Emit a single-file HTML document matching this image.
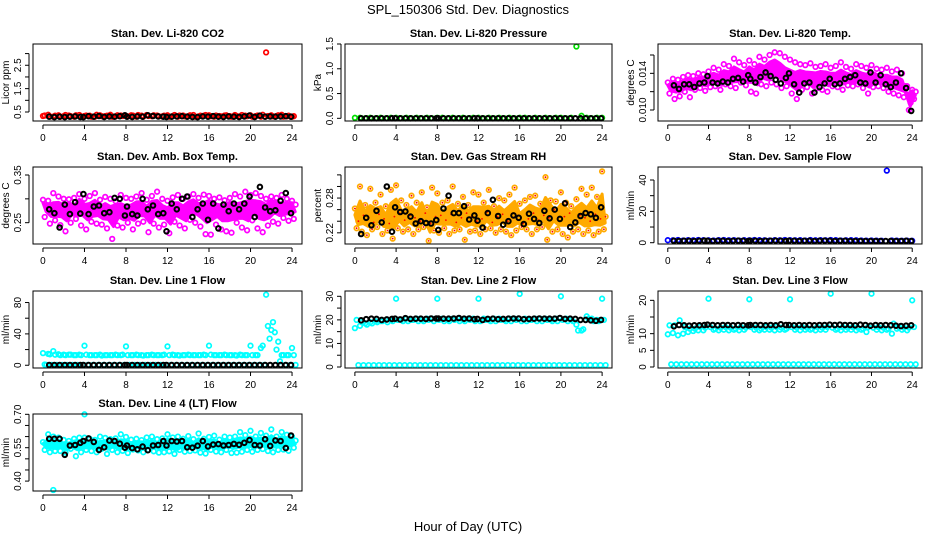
<!DOCTYPE html>
<html><head><meta charset="utf-8">
<style>
html,body{margin:0;padding:0;background:#fff;}
svg{display:block;font-family:"Liberation Sans",Arial,sans-serif;}
</style></head>
<body>
<svg id="chart" width="936" height="540" viewBox="0 0 936 540">
<text x="468" y="14" text-anchor="middle" font-size="13">SPL_150306  Std. Dev. Diagnostics</text>
<text x="468" y="531" text-anchor="middle" font-size="13">Hour of Day (UTC)</text>
</svg>
<script>
const hours = [0,0.5,1,1.5,2,2.5,3,3.5,4,4.5,5,5.5,6,6.5,7,7.5,8,8.5,9,9.5,10,10.5,11,11.5,12,12.5,13,13.5,14,14.5,15,15.5,16,16.5,17,17.5,18,18.5,19,19.5,20,20.5,21,21.5,22,22.5,23,23.5,24];
const blackHours = [0.6,1.1,1.6,2.1,2.6,3.1,3.6,3.9,4.4,4.9,5.4,5.9,6.4,6.9,7.4,7.9,8.1,8.6,9.1,9.6,10.1,10.6,11.1,11.6,11.9,12.4,12.9,13.4,13.9,14.4,14.9,15.4,15.9,16.4,16.9,17.4,17.9,18.4,18.9,19.4,19.9,20.4,20.9,21.4,21.9,22.4,22.9,23.4,23.9];
const xTicks = [0,4,8,12,16,20,24];

const co2A = [0.33,0.38,0.30,0.36,0.32,0.35,0.30,0.37,0.33,0.34,0.30,0.36,0.32,0.38,0.31,0.35,0.33,0.36,0.30,0.34,0.37,0.32,0.35,0.31,0.36,0.33,0.30,0.35,0.32,0.37,0.31,0.34,0.36,0.30,0.33,0.35,0.32,0.37,0.31,0.34,0.36,0.32,0.30,3.05,0.36,0.33,0.38,0.31,0.30];
const co2B = [0.35,0.31,0.34,0.30,0.37,0.32,0.36,0.31,0.35,0.30,0.38,0.32,0.34,0.30,0.36,0.33,0.31,0.35,0.37,0.30,0.33,0.36,0.31,0.34,0.30,0.37,0.35,0.31,0.36,0.30,0.34,0.37,0.32,0.35,0.31,0.36,0.30,0.33,0.37,0.32,0.30,0.35,0.38,0.33,0.31,0.36,0.30,0.34,0.32];
const co2K = [0.30,0.28,0.30,0.28,0.30,0.31,0.29,0.28,0.32,0.30,0.33,0.29,0.31,0.30,0.32,0.36,0.30,0.29,0.31,0.30,0.36,0.33,0.31,0.30,0.29,0.30,0.31,0.32,0.30,0.29,0.28,0.31,0.30,0.32,0.30,0.29,0.31,0.30,0.29,0.31,0.35,0.29,0.34,0.30,0.31,0.30,0.31,0.32,0.30];

const presA = [0.01,0.01,0.00,0.01,0.00,0.01,0.00,0.01,0.01,0.00,0.01,0.00,0.01,0.00,0.01,0.00,0.01,0.01,0.00,0.01,0.00,0.01,0.00,0.01,0.01,0.00,0.01,0.00,0.01,0.00,0.01,0.00,0.01,0.01,0.00,0.01,0.00,0.01,0.00,0.01,0.01,0.00,0.01,1.45,0.05,0.01,0.00,0.01,0.01];
const presK = [0.00,0.00,0.00,0.00,0.00,0.00,0.00,0.00,0.00,0.00,0.00,0.00,0.00,0.00,0.00,0.00,0.00,0.00,0.00,0.00,0.00,0.00,0.00,0.00,0.00,0.00,0.00,0.00,0.00,0.00,0.00,0.00,0.00,0.00,0.00,0.00,0.00,0.00,0.00,0.00,0.00,0.00,0.00,0.00,0.00,0.00,0.00,0.00,0.00];

const tempA = [0.0130,0.0134,0.0133,0.0136,0.0138,0.0137,0.0140,0.0139,0.0142,0.0146,0.0144,0.0150,0.0148,0.0156,0.0152,0.0149,0.0154,0.0150,0.0158,0.0155,0.0160,0.0163,0.0162,0.0158,0.0155,0.0152,0.0150,0.0149,0.0151,0.0147,0.0148,0.0150,0.0146,0.0148,0.0152,0.0147,0.0145,0.0150,0.0148,0.0146,0.0149,0.0145,0.0144,0.0146,0.0142,0.0144,0.0140,0.0126,0.0122];
const tempB = [0.0118,0.0112,0.0115,0.0120,0.0114,0.0122,0.0124,0.0121,0.0125,0.0126,0.0122,0.0128,0.0126,0.0124,0.0130,0.0127,0.0120,0.0118,0.0128,0.0126,0.0130,0.0128,0.0124,0.0126,0.0118,0.0112,0.0122,0.0125,0.0118,0.0124,0.0122,0.0120,0.0126,0.0125,0.0122,0.0127,0.0126,0.0128,0.0124,0.0118,0.0125,0.0126,0.0124,0.0120,0.0118,0.0116,0.0114,0.0100,0.0112];
const tempC = [0.0124,0.0127,0.0126,0.0128,0.0130,0.0129,0.0131,0.0132,0.0133,0.0134,0.0132,0.0136,0.0135,0.0138,0.0136,0.0134,0.0140,0.0137,0.0142,0.0140,0.0144,0.0146,0.0140,0.0134,0.0132,0.0130,0.0136,0.0134,0.0131,0.0134,0.0136,0.0133,0.0134,0.0132,0.0135,0.0134,0.0132,0.0136,0.0133,0.0132,0.0134,0.0133,0.0131,0.0130,0.0130,0.0128,0.0126,0.0108,0.0120];
const tempK = [0.0127,0.0123,0.0128,0.0128,0.0125,0.0129,0.0130,0.0137,0.0130,0.0129,0.0131,0.0130,0.0134,0.0135,0.0131,0.0138,0.0134,0.0130,0.0136,0.0141,0.0137,0.0133,0.0129,0.0135,0.0140,0.0128,0.0119,0.0129,0.0130,0.0119,0.0125,0.0129,0.0134,0.0128,0.0129,0.0134,0.0136,0.0138,0.0130,0.0129,0.0141,0.0130,0.0138,0.0128,0.0125,0.0130,0.0140,0.0124,0.0099];

const ambA = [0.298,0.296,0.312,0.305,0.300,0.299,0.302,0.310,0.300,0.306,0.312,0.298,0.304,0.300,0.295,0.308,0.302,0.300,0.305,0.312,0.298,0.306,0.315,0.300,0.296,0.303,0.308,0.300,0.305,0.310,0.302,0.309,0.306,0.300,0.303,0.297,0.302,0.310,0.305,0.315,0.308,0.312,0.306,0.300,0.305,0.302,0.308,0.300,0.296];
const ambB = [0.262,0.248,0.255,0.245,0.232,0.250,0.258,0.244,0.236,0.252,0.248,0.246,0.238,0.216,0.244,0.240,0.250,0.236,0.248,0.252,0.230,0.248,0.240,0.246,0.228,0.252,0.244,0.238,0.256,0.250,0.242,0.226,0.225,0.246,0.236,0.232,0.229,0.250,0.240,0.234,0.255,0.238,0.230,0.244,0.252,0.248,0.260,0.254,0.258];
const ambC = [0.285,0.278,0.272,0.280,0.276,0.284,0.270,0.288,0.276,0.275,0.282,0.270,0.276,0.268,0.280,0.272,0.268,0.274,0.282,0.276,0.270,0.284,0.278,0.272,0.266,0.280,0.276,0.270,0.282,0.286,0.278,0.274,0.288,0.280,0.272,0.276,0.284,0.268,0.278,0.274,0.286,0.280,0.282,0.276,0.290,0.282,0.276,0.284,0.288];
const ambK = [0.278,0.270,0.240,0.288,0.268,0.293,0.269,0.310,0.268,0.284,0.286,0.270,0.272,0.302,0.300,0.265,0.284,0.268,0.265,0.300,0.278,0.286,0.268,0.270,0.232,0.290,0.278,0.300,0.305,0.262,0.278,0.290,0.256,0.290,0.238,0.288,0.274,0.290,0.278,0.290,0.305,0.262,0.325,0.282,0.274,0.276,0.296,0.312,0.270];

const rhA = [0.262,0.300,0.268,0.296,0.272,0.286,0.266,0.294,0.302,0.276,0.268,0.284,0.272,0.290,0.264,0.298,0.288,0.272,0.276,0.300,0.270,0.282,0.268,0.290,0.286,0.272,0.294,0.266,0.280,0.276,0.286,0.298,0.270,0.276,0.282,0.284,0.270,0.316,0.276,0.274,0.290,0.272,0.266,0.278,0.296,0.286,0.298,0.282,0.326];
const rhB = [0.228,0.222,0.216,0.226,0.230,0.218,0.224,0.210,0.228,0.222,0.226,0.218,0.226,0.230,0.206,0.224,0.220,0.228,0.218,0.224,0.226,0.208,0.222,0.224,0.218,0.226,0.228,0.220,0.226,0.222,0.216,0.224,0.230,0.226,0.218,0.226,0.230,0.208,0.222,0.226,0.218,0.212,0.222,0.226,0.218,0.224,0.216,0.222,0.226];
const rhC = [0.240,0.250,0.246,0.238,0.252,0.244,0.236,0.248,0.254,0.242,0.250,0.246,0.240,0.254,0.236,0.248,0.250,0.242,0.252,0.238,0.246,0.254,0.248,0.240,0.244,0.256,0.238,0.248,0.252,0.240,0.246,0.250,0.236,0.244,0.254,0.242,0.250,0.246,0.260,0.240,0.248,0.254,0.242,0.250,0.246,0.240,0.252,0.244,0.248];
const rhK = [0.218,0.246,0.233,0.258,0.238,0.300,0.222,0.264,0.256,0.257,0.248,0.236,0.240,0.237,0.236,0.242,0.225,0.262,0.284,0.254,0.254,0.266,0.243,0.250,0.241,0.229,0.254,0.277,0.249,0.234,0.240,0.250,0.246,0.235,0.253,0.244,0.237,0.258,0.245,0.260,0.244,0.271,0.230,0.238,0.249,0.254,0.252,0.246,0.264];

const sfA = [1.6,1.5,1.7,1.4,1.6,1.5,1.7,1.6,1.5,1.4,1.6,1.7,1.5,1.6,1.4,1.6,1.5,1.7,1.6,1.5,1.4,1.6,1.5,1.7,1.6,1.5,1.6,1.4,1.7,1.5,1.6,1.5,1.7,1.6,1.4,1.5,1.6,1.5,1.4,1.3,1.4,1.3,1.2,46.0,1.4,1.3,1.2,1.3,1.2];
const sfK = [1.2,1.1,1.2,1.2,1.1,1.2,1.3,1.2,1.1,1.2,1.2,1.1,1.2,1.3,1.2,1.1,1.2,1.2,1.1,1.2,1.2,1.3,1.2,1.1,1.2,1.2,1.1,1.2,1.2,1.1,1.2,1.3,1.2,1.1,1.2,1.2,1.1,1.0,1.1,1.0,1.0,1.1,1.0,1.0,1.1,1.0,1.1,1.2,1.1];

const l1A = [15.5,14.5,18.0,14.0,13.5,13.5,13.0,13.5,25.0,13.0,13.0,13.5,13.0,13.0,13.5,13.0,24.0,13.0,13.5,13.0,13.0,13.5,13.0,13.0,24.0,13.5,13.0,13.0,13.5,13.0,13.0,13.5,25.0,13.0,13.0,13.5,13.0,13.0,13.5,13.0,25.0,13.0,22.0,90.0,45.0,20.0,13.0,13.0,22.0];
const l1B = [1.0,14.0,13.5,13.0,13.0,13.5,13.0,13.0,13.5,13.0,13.0,12.5,13.0,13.0,13.0,13.5,13.0,13.0,13.0,12.5,13.0,13.0,13.0,13.5,13.0,13.0,12.5,13.0,13.0,13.0,13.0,13.0,13.5,13.0,13.0,13.0,13.0,12.5,13.0,13.0,13.0,13.0,25.0,50.0,55.0,30.0,13.0,13.0,13.0];
const l1C = [0.5,0.5,0.5,0.5,0.5,0.5,0.5,0.5,0.5,0.5,0.5,0.5,0.5,0.5,0.5,0.5,0.5,0.5,0.5,0.5,0.5,0.5,0.5,0.5,0.5,0.5,0.5,0.5,0.5,0.5,0.5,0.5,0.5,0.5,0.5,0.5,0.5,0.5,0.5,0.5,0.5,0.5,0.5,34.0,42.0,5.0,0.5,0.5,0.5];
const l1K = [0.3,0.3,0.3,0.3,0.3,0.3,0.3,0.3,0.3,0.3,0.3,0.3,0.3,0.3,0.3,0.3,0.3,0.3,0.3,0.3,0.3,0.3,0.3,0.3,0.3,0.3,0.3,0.3,0.3,0.3,0.3,0.3,0.3,0.3,0.3,0.3,0.3,0.3,0.3,0.3,0.3,0.3,0.3,0.3,0.3,0.3,0.3,0.3,0.3];

const l2A = [16.5,17.5,18.5,19.0,19.5,19.5,20.0,20.0,29.0,20.0,20.5,20.0,20.5,20.0,20.5,20.5,29.0,20.5,20.0,20.5,20.5,20.0,20.5,20.5,29.0,20.5,20.0,20.5,20.5,20.0,20.5,20.5,31.0,20.5,20.0,20.5,20.5,20.5,20.0,20.5,30.0,20.5,20.0,18.0,15.5,21.5,20.5,20.0,29.0];
const l2B = [20.0,19.0,18.0,18.5,19.0,19.5,19.0,19.5,20.0,19.5,19.5,20.0,19.5,19.5,20.0,19.5,20.0,19.5,19.5,20.0,19.5,19.5,20.0,19.5,19.5,20.0,19.5,19.5,20.0,19.5,19.5,20.0,19.5,19.5,20.0,19.5,19.5,20.0,19.5,19.5,20.0,19.5,19.5,15.5,16.0,20.5,19.5,19.5,20.0];
const l2C = [0.8,0.8,0.8,0.8,0.8,0.8,0.8,0.8,0.8,0.8,0.8,0.8,0.8,0.8,0.8,0.8,0.8,0.8,0.8,0.8,0.8,0.8,0.8,0.8,0.8,0.8,0.8,0.8,0.8,0.8,0.8,0.8,0.8,0.8,0.8,0.8,0.8,0.8,0.8,0.8,0.8,0.8,0.8,0.8,0.8,0.8,0.8,0.8,0.8];
const l2K = [19.8,20.3,20.5,20.4,20.0,20.2,20.4,20.5,20.2,20.7,20.4,20.5,20.5,20.4,20.6,20.6,20.6,20.5,20.5,20.6,20.8,20.5,20.6,20.3,20.4,20.0,20.4,20.5,20.3,20.4,20.5,20.6,20.6,20.3,20.4,20.5,20.6,20.5,20.5,20.5,20.8,20.4,20.5,20.4,20.0,20.0,19.8,19.6,20.0];

const l3A = [9.8,10.2,9.5,10.0,10.5,10.8,11.0,11.0,20.5,11.2,11.0,11.2,11.0,11.2,11.0,11.2,20.3,11.2,11.0,11.2,11.2,11.0,11.2,11.2,20.3,11.2,11.0,11.2,11.2,11.0,11.2,11.2,22.0,11.2,11.0,11.2,11.2,11.0,11.2,10.5,22.0,11.2,11.0,11.2,10.0,11.5,11.2,11.0,20.0];
const l3B = [12.5,12.5,14.0,12.0,11.5,11.5,12.0,11.8,12.0,11.5,11.8,12.0,11.8,11.5,12.0,11.8,12.0,11.8,11.5,12.0,11.8,12.0,11.8,11.5,12.0,11.8,12.0,11.8,11.5,12.0,11.8,12.0,11.8,11.5,12.0,11.8,12.0,11.8,11.5,12.0,11.8,12.0,11.8,11.5,13.0,12.0,11.8,11.8,12.0];
const l3C = [0.8,0.8,0.8,0.8,0.8,0.8,0.8,0.8,0.8,0.8,0.8,0.8,0.8,0.8,0.8,0.8,0.8,0.8,0.8,0.8,0.8,0.8,0.8,0.8,0.8,0.8,0.8,0.8,0.8,0.8,0.8,0.8,0.8,0.8,0.8,0.8,0.8,0.8,0.8,0.8,0.8,0.8,0.8,0.8,0.8,0.8,0.8,0.8,0.8];
const l3K = [12.2,12.6,12.5,12.4,12.5,12.5,12.6,12.7,12.6,12.5,12.6,12.6,12.5,12.6,12.5,12.5,12.6,12.6,12.6,12.5,12.6,12.5,12.8,12.6,12.6,12.5,12.6,12.5,12.6,12.5,12.6,12.6,12.7,12.6,12.7,12.6,12.6,12.5,12.7,12.6,12.4,12.6,12.5,12.6,12.5,12.4,12.3,12.4,12.5];

const l4A = [0.575,0.610,0.600,0.595,0.585,0.580,0.590,0.595,0.595,0.590,0.585,0.600,0.594,0.588,0.592,0.610,0.598,0.586,0.590,0.584,0.596,0.600,0.588,0.592,0.610,0.596,0.600,0.590,0.602,0.588,0.614,0.590,0.598,0.604,0.586,0.600,0.596,0.600,0.620,0.606,0.626,0.600,0.616,0.604,0.632,0.600,0.620,0.608,0.600];
const l4B = [0.540,0.530,0.535,0.535,0.528,0.545,0.512,0.530,0.540,0.535,0.530,0.545,0.522,0.540,0.530,0.536,0.526,0.542,0.538,0.530,0.540,0.534,0.528,0.530,0.534,0.522,0.540,0.532,0.535,0.538,0.528,0.524,0.540,0.533,0.530,0.540,0.526,0.528,0.532,0.540,0.532,0.540,0.544,0.535,0.530,0.540,0.542,0.536,0.550];
const l4C = [0.560,0.566,0.558,0.564,0.556,0.562,0.570,0.568,0.558,0.566,0.560,0.556,0.564,0.570,0.558,0.562,0.566,0.556,0.564,0.568,0.558,0.566,0.560,0.564,0.570,0.556,0.562,0.566,0.570,0.558,0.566,0.560,0.570,0.564,0.558,0.572,0.566,0.576,0.568,0.574,0.570,0.578,0.572,0.568,0.576,0.574,0.580,0.578,0.582];
const l4K = [0.590,0.590,0.590,0.518,0.560,0.562,0.572,0.580,0.592,0.576,0.540,0.552,0.582,0.580,0.568,0.550,0.560,0.548,0.543,0.555,0.539,0.560,0.562,0.580,0.560,0.580,0.578,0.580,0.552,0.550,0.559,0.580,0.556,0.564,0.566,0.560,0.562,0.567,0.563,0.572,0.584,0.562,0.560,0.588,0.558,0.583,0.580,0.548,0.605];
const l4OutHours = [1.0,4.0];
const l4OutVals = [0.360,0.700];

const panels = [
 {id:'co2',col:0,row:0,title:'Stan. Dev. Li-820 CO2',ylab:'Licor ppm',dom:[0.115,3.41],ticks:[0.5,1,1.5,2,2.5,3],labs:['0.5','','1.5','','2.5',''],color:'#ff0000',sets:[co2A,co2B],black:co2K,band:false},
 {id:'pressure',col:1,row:0,title:'Stan. Dev. Li-820 Pressure',ylab:'kPa',dom:[-0.054,1.5],ticks:[0,0.5,1,1.5],labs:['0.0','0.5','1.0','1.5'],color:'#00dd00',sets:[presA],black:presK,band:false},
 {id:'temp',col:2,row:0,title:'Stan. Dev. Li-820 Temp.',ylab:'degrees C',dom:[0.0088,0.0172],ticks:[0.010,0.012,0.014,0.016],labs:['0.010','','0.014',''],color:'#ff00ff',sets:[tempA,tempB,tempC],black:tempK,band:true},
 {id:'ambtemp',col:0,row:1,title:'Stan. Dev. Amb. Box Temp.',ylab:'degrees C',dom:[0.2053,0.3668],ticks:[0.25,0.30,0.35],labs:['0.25','','0.35'],color:'#ff00ff',sets:[ambA,ambB,ambC],black:ambK,band:true},
 {id:'rh',col:1,row:1,title:'Stan. Dev. Gas Stream RH',ylab:'percent',dom:[0.2007,0.3336],ticks:[0.22,0.24,0.26,0.28,0.30,0.32],labs:['0.22','','','0.28','',''],color:'#ffaa00',sets:[rhA,rhB,rhC],black:rhK,band:true},
 {id:'sampleflow',col:2,row:1,title:'Stan. Dev. Sample Flow',ylab:'ml/min',dom:[-0.83,48.3],ticks:[0,10,20,30,40],labs:['0','','20','','40'],color:'#0000ff',sets:[sfA],black:sfK,band:false},
 {id:'line1',col:0,row:2,title:'Stan. Dev. Line 1 Flow',ylab:'ml/min',dom:[-3.5,94.7],ticks:[0,20,40,60,80],labs:['0','','40','','80'],color:'#00ffff',sets:[l1A,l1B,l1C],black:l1K,band:false},
 {id:'line2',col:1,row:2,title:'Stan. Dev. Line 2 Flow',ylab:'ml/min',dom:[-0.42,32.25],ticks:[0,5,10,15,20,25,30],labs:['0','','10','','20','','30'],color:'#00ffff',sets:[l2A,l2B,l2C],black:l2K,band:false},
 {id:'line3',col:2,row:2,title:'Stan. Dev. Line 3 Flow',ylab:'ml/min',dom:[-0.3,22.8],ticks:[0,5,10,15,20],labs:['0','5','10','','20'],color:'#00ffff',sets:[l3A,l3B,l3C],black:l3K,band:false},
 {id:'line4',col:0,row:3,title:'Stan. Dev. Line 4 (LT) Flow',ylab:'ml/min',dom:[0.3555,0.7014],ticks:[0.40,0.45,0.50,0.55,0.60,0.65,0.70],labs:['0.40','','','0.55','','','0.70'],color:'#00ffff',sets:[l4A,l4B,l4C],black:l4K,band:true,outH:l4OutHours,outV:l4OutVals}
];

const NS='http://www.w3.org/2000/svg';
const svg=document.getElementById('chart');
const colLeft=[33,345,658], colW=[269,267,264], rowTop=[44,167,291,414], H=77;
function mk(tag,attrs,parent){const e=document.createElementNS(NS,tag);for(const k in attrs)e.setAttribute(k,attrs[k]);(parent||svg).appendChild(e);return e;}

panels.forEach(p=>{
  const L=colLeft[p.col], W=colW[p.col], T=rowTop[p.row];
  const xs=h=>L+(h+0.96)/25.92*W;
  const ys=v=>T+(p.dom[1]-v)/(p.dom[1]-p.dom[0])*H;
  const g=mk('g',{});
  
  
  const t=mk('text',{x:L+W/2,y:T-7,'text-anchor':'middle','font-size':11,'font-weight':'bold'},g);
  t.textContent=p.title;
  
  
  if(p.band){
    const A=p.sets[0],B=p.sets[1],C=p.sets[2];
    let up=[],dn=[];
    hours.forEach((h,i)=>{
      up.push(xs(h).toFixed(1)+','+ys((A[i]+C[i])/2).toFixed(1));
      dn.unshift(xs(h+0.3).toFixed(1)+','+ys((B[i]+C[i])/2).toFixed(1));
    });
    const band=mk('polygon',{points:up.concat(dn).join(' '),fill:p.color,stroke:p.color,'stroke-width':3,'stroke-linejoin':'round'},g);
    
    
  }
  const pg=mk('g',{fill:'none','stroke-width':1.7},g);
  
  
  p.sets.forEach((arr,si)=>{
    arr.forEach((v,i)=>{
      const off=si*0.17;
      const c=mk('circle',{cx:xs(hours[i]+off).toFixed(1),cy:ys(v).toFixed(1),r:2.3,stroke:p.color},pg);
      
      
      if(p.id==='rh'){
        const d=mk('circle',{cx:xs(hours[i]+off).toFixed(1),cy:ys(v).toFixed(1),r:0.9,fill:'#ff0000',stroke:'none'},pg);
        
        
      }
    });
  });
  if(p.outH){
    p.outH.forEach((h,i)=>{
      const c=mk('circle',{cx:xs(h).toFixed(1),cy:ys(p.outV[i]).toFixed(1),r:2.3,stroke:p.color},pg);
      
      
    });
  }
  p.black.forEach((v,i)=>{
    const c=mk('circle',{cx:xs(blackHours[i]).toFixed(1),cy:ys(v).toFixed(1),r:2.3,stroke:'#000','stroke-width':2},pg);
    
    
  });
  const b=mk('rect',{x:L,y:T,width:W,height:H,fill:'none',stroke:'#000','stroke-width':1},g);
  
  
  const xa=mk('g',{'font-size':10,'text-anchor':'middle'},g);
  
  
  mk('line',{x1:xs(0),x2:xs(24),y1:T+H+4,y2:T+H+4,stroke:'#000'},xa);
  xTicks.forEach(h=>{
    mk('line',{x1:xs(h),x2:xs(h),y1:T+H+4,y2:T+H+8,stroke:'#000'},xa);
    const tx=mk('text',{x:xs(h),y:T+H+20},xa);
    tx.textContent=h;
    
    
  });
  const ya=mk('g',{'font-size':10,'text-anchor':'middle'},g);
  
  
  mk('line',{x1:L-4,x2:L-4,y1:ys(p.ticks[0]),y2:ys(p.ticks[p.ticks.length-1]),stroke:'#000'},ya);
  p.ticks.forEach((v,i)=>{
    const y=ys(v);
    mk('line',{x1:L-8,x2:L-4,y1:y,y2:y,stroke:'#000'},ya);
    if(p.labs[i]){
      const tx=mk('text',{x:L-12,y:y,transform:`rotate(-90 ${L-12} ${y})`},ya);
      tx.textContent=p.labs[i];
      
      
    }
  });
  const yl=mk('text',{x:L-24,y:T+H/2,'font-size':10,'text-anchor':'middle',transform:`rotate(-90 ${L-24} ${T+H/2})`},g);
  yl.textContent=p.ylab;
  
  
});
</script>
</body></html>
